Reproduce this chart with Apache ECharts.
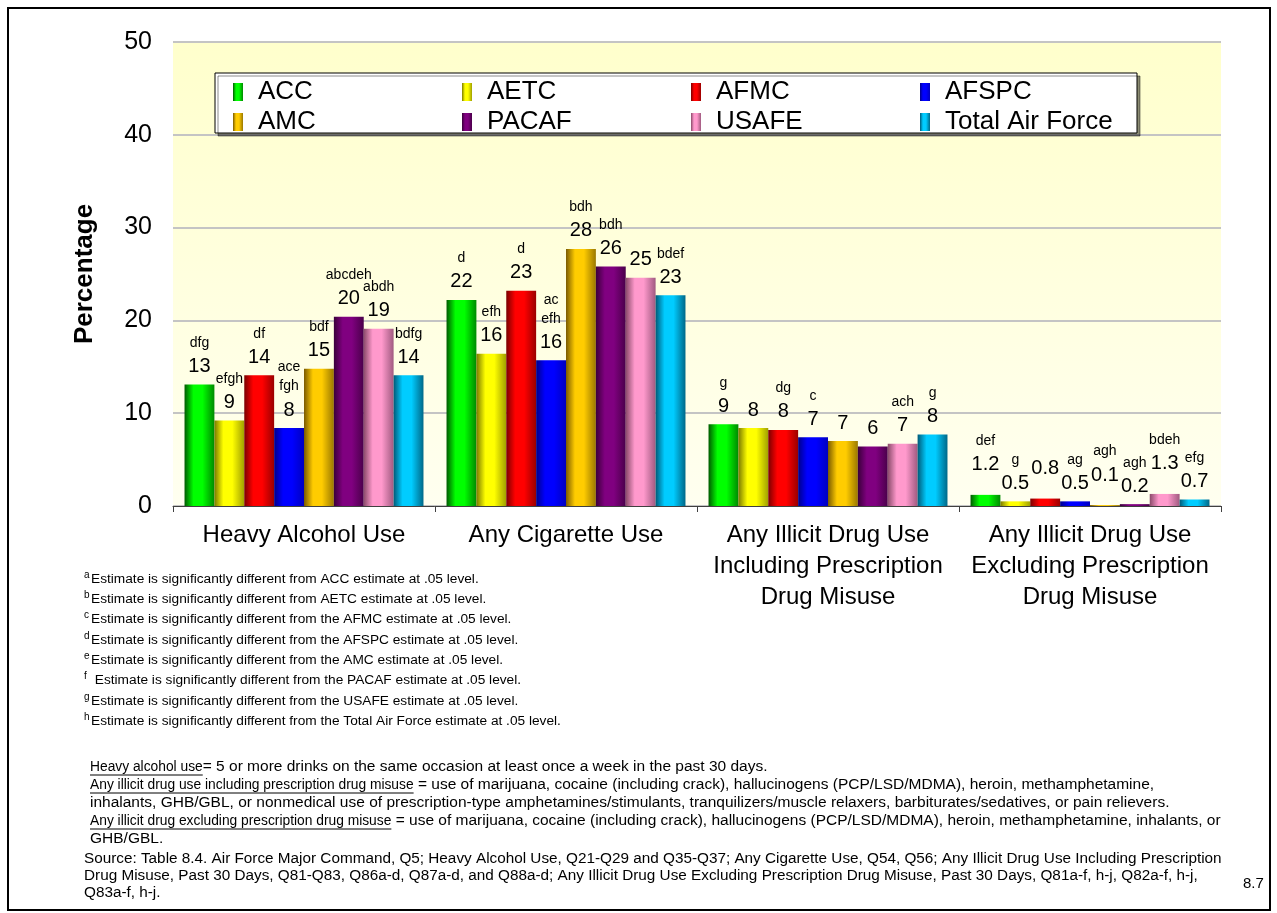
<!DOCTYPE html>
<html><head><meta charset="utf-8">
<script src="https://cdn.jsdelivr.net/npm/echarts@6/dist/echarts.min.js"></script>
<style>html,body{margin:0;padding:0;background:#fff}#c{width:1277px;height:913px}</style>
</head><body><div id="c"></div>
<script>
// ---------- data ----------
const categories = [
  'Heavy Alcohol Use',
  'Any Cigarette Use',
  'Any Illicit Drug Use\nIncluding Prescription\nDrug Misuse',
  'Any Illicit Drug Use\nExcluding Prescription\nDrug Misuse'
];
const seriesNames = ['ACC', 'AETC', 'AFMC', 'AFSPC', 'AMC', 'PACAF', 'USAFE', 'Total Air Force'];
const accValues   = [13.1, 22.2, 8.8, 1.2];
const aetcValues  = [9.2, 16.4, 8.4, 0.5];
const afmcValues  = [14.1, 23.2, 8.2, 0.8];
const afspcValues = [8.4, 15.7, 7.4, 0.5];
const amcValues   = [14.8, 27.7, 7.0, 0.1];
const pacafValues = [20.4, 25.8, 6.4, 0.2];
const usafeValues = [19.1, 24.6, 6.7, 1.3];
const totalValues = [14.1, 22.7, 7.7, 0.7];
// significance letters shown above each bar
const accSig   = ['dfg', 'd', 'g', 'def'];
const aetcSig  = ['efgh', 'efh', '', 'g'];
const afmcSig  = ['df', 'd', 'dg', ''];
const afspcSig = ['ace\nfgh', 'ac\nefh', 'c', 'ag'];
const amcSig   = ['bdf', 'bdh', '', 'agh'];
const pacafSig = ['abcdeh', 'bdh', '', 'agh'];
const usafeSig = ['abdh', '', 'ach', 'bdeh'];
const totalSig = ['bdfg', 'bdef', 'g', 'efg'];
const yTicks = [0, 10, 20, 30, 40, 50];
const yAxisTitle = 'Percentage';

const footLetters = ['a', 'b', 'c', 'd', 'e', 'f', 'g', 'h'];
const footTexts = [
  'Estimate is significantly different from ACC estimate at .05 level.',
  'Estimate is significantly different from AETC estimate at .05 level.',
  'Estimate is significantly different from the AFMC estimate at .05 level.',
  'Estimate is significantly different from the AFSPC estimate at .05 level.',
  'Estimate is significantly different from the AMC estimate at .05 level.',
  ' Estimate is significantly different from the PACAF estimate at .05 level.',
  'Estimate is significantly different from the USAFE estimate at .05 level.',
  'Estimate is significantly different from the Total Air Force estimate at .05 level.'
];
const defUnderlined = ['Heavy alcohol use', 'Any illicit drug use including prescription drug misuse', '', 'Any illicit drug excluding prescription drug misuse', ''];
const defRest = [
  '= 5 or more drinks on the same occasion at least once a week in the past 30 days.',
  ' = use of marijuana, cocaine (including crack), hallucinogens (PCP/LSD/MDMA), heroin, methamphetamine,',
  'inhalants, GHB/GBL, or nonmedical use of prescription-type amphetamines/stimulants, tranquilizers/muscle relaxers, barbiturates/sedatives, or pain relievers.',
  ' = use of marijuana, cocaine (including crack), hallucinogens (PCP/LSD/MDMA), heroin, methamphetamine, inhalants, or',
  'GHB/GBL.'
];
const sourceLines = [
  'Source: Table 8.4. Air Force Major Command, Q5; Heavy Alcohol Use, Q21-Q29 and Q35-Q37; Any Cigarette Use, Q54, Q56; Any Illicit Drug Use Including Prescription',
  'Drug Misuse, Past 30 Days, Q81-Q83, Q86a-d, Q87a-d, and Q88a-d; Any Illicit Drug Use Excluding Prescription Drug Misuse, Past 30 Days, Q81a-f, h-j, Q82a-f, h-j,',
  'Q83a-f, h-j.'
];
const pageNumber = '8.7';

// ---------- styles ----------
const FONT = '"Liberation Sans", Arial, Helvetica, sans-serif';
const allValues = [accValues, aetcValues, afmcValues, afspcValues, amcValues, pacafValues, usafeValues, totalValues];
const allSig = [accSig, aetcSig, afmcSig, afspcSig, amcSig, pacafSig, usafeSig, totalSig];
const shades = [
  ['#005a00', '#00ff00', '#008a00'],
  ['#7a7a00', '#ffff00', '#a0a000'],
  ['#7a0000', '#ff0000', '#9a0000'],
  ['#00008a', '#0000ff', '#0000c0'],
  ['#7a5a00', '#ffcc00', '#9a7800'],
  ['#3a003a', '#800080', '#4a004a'],
  ['#8a4a6a', '#ff99cc', '#a05a80'],
  ['#005a78', '#00ccff', '#006888']
];
function grad(s) {
  return new echarts.graphic.LinearGradient(0, 0, 1, 0, [
    { offset: 0, color: s[0] },
    { offset: 0.3, color: s[1] },
    { offset: 0.6, color: s[1] },
    { offset: 1, color: s[2] }
  ]);
}
function labelFmt(sig) {
  return function (p) {
    const v = p.dataIndex === 3 ? Number(p.value).toFixed(1) : String(Math.round(p.value));
    const parts = [];
    const s = sig[p.dataIndex];
    if (s) s.split('\n').forEach(l => parts.push('{s|' + l + '}'));
    parts.push('{v|' + v + '}');
    return parts.join('\n');
  };
}

const series = seriesNames.map((name, si) => ({
  name: name,
  type: 'bar',
  barGap: '0%',
  barCategoryGap: '8.8%',
  itemStyle: { color: grad(shades[si]) },
  emphasis: { disabled: true },
  data: allValues[si].map((v, di) => (di === 3 && si % 2 === 0)
    ? { value: v, label: { offset: [0, -12] } } : v),
  label: {
    show: true,
    position: 'top',
    distance: 4,
    formatter: labelFmt(allSig[si]),
    rich: {
      s: { fontSize: 14, lineHeight: 19, color: '#000', fontFamily: FONT },
      v: { fontSize: 20, lineHeight: 28, color: '#000', fontFamily: FONT }
    }
  }
}));

// ---------- decorations ----------
const ctx = document.createElement('canvas').getContext('2d');
const FOOT = '13.7px ' + FONT;
const DEF = '15.5px ' + FONT;
const DEFU = '13.8px ' + FONT;
const SRC = '15.3px ' + FONT;
ctx.font = DEFU;
const graphics = [];
graphics.push({ type: 'rect', z: 1, silent: true, shape: { x: 8, y: 8, width: 1262, height: 902 },
  style: { fill: 'none', stroke: '#000', lineWidth: 2 } });
graphics.push({ type: 'rect', z: 3, silent: true, shape: { x: 215, y: 73, width: 922, height: 60 },
  style: { fill: '#ffffff', stroke: '#000', lineWidth: 1, shadowColor: 'rgba(0,0,0,0.45)', shadowOffsetX: 3, shadowOffsetY: 3, shadowBlur: 0 } });
footTexts.forEach((t, i) => {
  const y = 579 + i * 20.3;
  graphics.push({ type: 'text', z: 5, silent: true, x: 84, y: y - 4,
    style: { text: footLetters[i], font: '10px ' + FONT, fill: '#000', verticalAlign: 'middle' } });
  graphics.push({ type: 'text', z: 5, silent: true, x: 91, y: y,
    style: { text: t, font: FOOT, fill: '#000', verticalAlign: 'middle' } });
});
defRest.forEach((t, i) => {
  const y = 767 + i * 18;
  const u = defUnderlined[i];
  let x = 90;
  if (u) {
    const w = ctx.measureText(u).width;
    graphics.push({ type: 'text', z: 5, silent: true, x: x, y: y,
      style: { text: u, font: DEFU, fill: '#000', verticalAlign: 'middle' } });
    graphics.push({ type: 'line', z: 5, silent: true, shape: { x1: x, y1: y + 8, x2: x + w, y2: y + 8 },
      style: { stroke: '#000', lineWidth: 1 } });
    x += w;
  }
  graphics.push({ type: 'text', z: 5, silent: true, x: x, y: y,
    style: { text: t, font: DEF, fill: '#000', verticalAlign: 'middle' } });
});
sourceLines.forEach((t, i) => {
  graphics.push({ type: 'text', z: 5, silent: true, x: 84, y: 859 + i * 17,
    style: { text: t, font: SRC, fill: '#000', verticalAlign: 'middle' } });
});
graphics.push({ type: 'text', z: 5, silent: true, x: 1243, y: 884,
  style: { text: pageNumber, font: '15px ' + FONT, fill: '#000', verticalAlign: 'middle' } });

const chart = echarts.init(document.getElementById('c'), null, { renderer: 'canvas' });
chart.setOption({
  animation: false,
  backgroundColor: '#ffffff',
  textStyle: { fontFamily: FONT },
  grid: {
    left: 173, right: 56, top: 42, bottom: 407,
    show: true, borderWidth: 0,
    backgroundColor: new echarts.graphic.LinearGradient(0, 0, 0, 1, [
      { offset: 0, color: '#ffffcc' }, { offset: 1, color: '#fffff0' }
    ])
  },
  legend: {
    left: 216, top: 77, width: 960, padding: [2, 0, 2, 17],
    itemWidth: 10, itemHeight: 18, itemGap: 4, icon: 'rect',
    selectedMode: false, z: 20,
    data: seriesNames,
    formatter: n => '{a|' + n + '}',
    textStyle: { rich: { a: { fontSize: 26, lineHeight: 24, width: 200, color: '#000', fontFamily: FONT, padding: [0, 0, 0, 10] } } }
  },
  xAxis: {
    type: 'category',
    data: categories,
    axisLine: { show: true, lineStyle: { color: '#404040', width: 1 } },
    axisTick: { show: true, length: 6, lineStyle: { color: '#404040' } },
    axisLabel: { interval: 0, fontSize: 24, lineHeight: 31, margin: 14, color: '#000', fontFamily: FONT },
    splitLine: { show: false }
  },
  yAxis: {
    type: 'value',
    min: yTicks[0], max: yTicks[yTicks.length - 1], interval: yTicks[1] - yTicks[0],
    name: yAxisTitle, nameLocation: 'middle', nameGap: 75,
    nameTextStyle: { fontSize: 26, fontWeight: 'bold', color: '#000', fontFamily: FONT },
    axisLine: { show: false },
    axisTick: { show: false },
    axisLabel: { fontSize: 25, margin: 21, color: '#000', fontFamily: FONT },
    splitLine: { show: true, lineStyle: { color: '#c4c4c4', width: 2 } }
  },
  series: series,
  graphic: graphics
});
</script>
</body></html>
